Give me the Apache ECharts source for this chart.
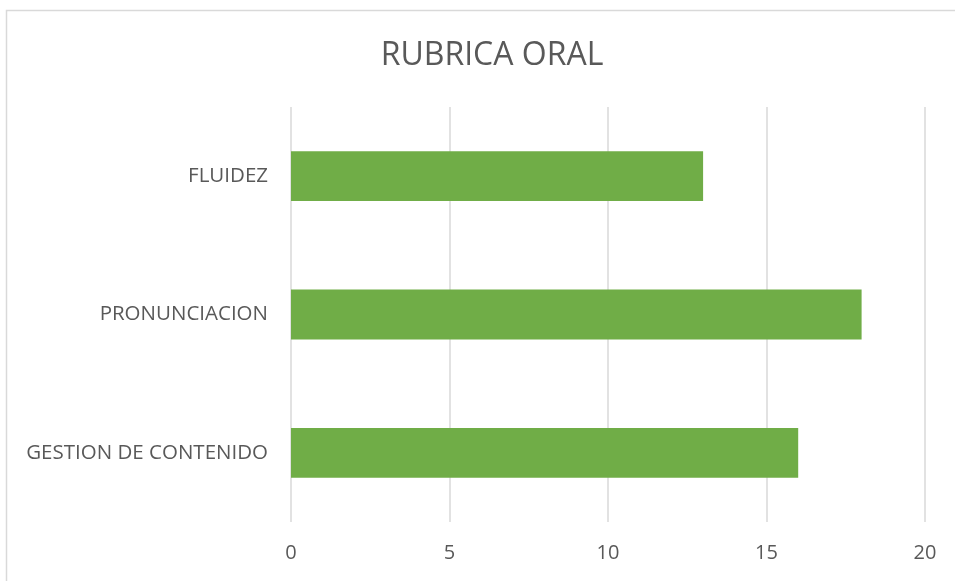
<!DOCTYPE html>
<html>
<head>
<meta charset="utf-8">
<script src="https://cdn.jsdelivr.net/npm/echarts@6/dist/echarts.min.js"></script>
<style>
  html, body { margin: 0; padding: 0; background: #fff; }
  #chart { width: 955px; height: 581px; }
</style>
</head>
<body>
<div id="chart"></div>
<script>
const categories = ['GESTION DE CONTENIDO', 'PRONUNCIACION', 'FLUIDEZ']
const values = [16, 18, 13]
const xTicks = { min: 0, max: 20, interval: 5 }

const chart = echarts.init(document.getElementById('chart'))
const option = {
  backgroundColor: '#fff',
  textStyle: { fontFamily: 'Open Sans' },
  graphic: [
    {
      type: 'rect',
      left: 4,
      top: 8,
      shape: { width: 1000, height: 600 },
      style: { fill: 'none', stroke: '#d9d9d9', lineWidth: 1.5 },
      silent: true
    }
  ],
  title: {
    text: 'RUBRICA ORAL',
    left: 487,
    textAlign: 'center',
    top: 35,
    textStyle: {
      fontFamily: 'Open Sans',
      fontSize: 32,
      fontWeight: 'normal',
      color: '#595959'
    }
  },
  grid: {
    left: 291,
    right: 30,
    top: 107,
    bottom: 59,
    containLabel: false
  },
  xAxis: {
    type: 'value',
    min: xTicks.min,
    max: xTicks.max,
    interval: xTicks.interval,
    axisLine: { show: false },
    axisTick: { show: false },
    axisLabel: { color: '#595959', fontSize: 20, margin: 21 },
    splitLine: { lineStyle: { color: '#d9d9d9', width: 1.5 } }
  },
  yAxis: {
    type: 'category',
    data: categories,
    axisLine: { show: false },
    axisTick: { show: false },
    axisLabel: { color: '#595959', fontSize: 20.5, margin: 23 }
  },
  series: [
    {
      type: 'bar',
      data: values,
      barCategoryGap: '64%',
      itemStyle: { color: '#70ad47' }
    }
  ]
}
chart.setOption(option)
</script>
</body>
</html>
